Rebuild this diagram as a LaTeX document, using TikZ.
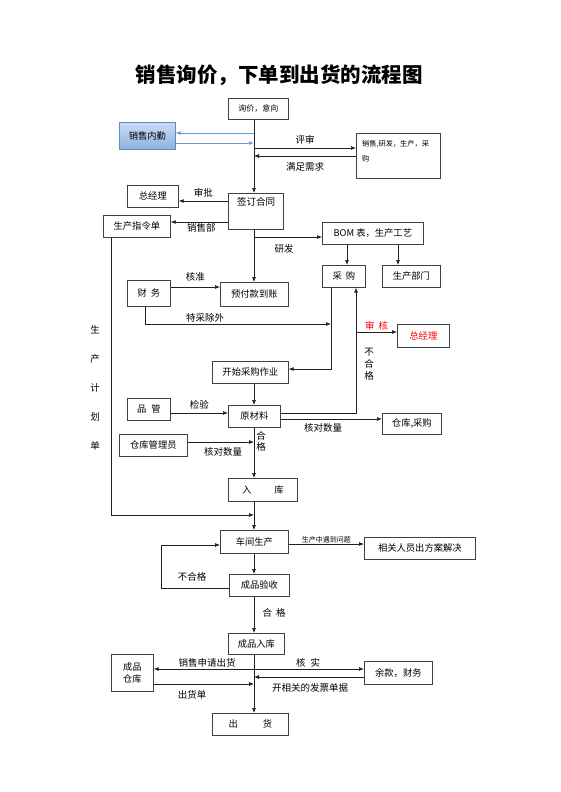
\documentclass[tikz,border=0pt]{standalone}
\usepackage{fontspec}
\setmainfont{Noto Sans CJK SC}
\usetikzlibrary{arrows.meta,calc,shadings}
\definecolor{lnc}{HTML}{202020}
\definecolor{bluel}{HTML}{6F9AD0}
\definecolor{bluetop}{HTML}{C9DCF2}
\definecolor{bluebot}{HTML}{8DB2E0}
\definecolor{blueedge}{HTML}{5B8BC6}
\newcommand{\mybox}[7][]{\node[rbox,#1,minimum width={(#5-#3)*1pt},minimum height={(#6-#4)*1pt}] (#2) at (#3,#4) {#7};}
\begin{document}
\begin{tikzpicture}[x=1pt,y=-1pt,
  rbox/.style={draw=black!75,line width=0.7pt,inner sep=1pt,font=\fontsize{9.3}{12}\selectfont,anchor=north west,align=center},
  lbl/.style={font=\fontsize{9.5}{12}\selectfont,inner sep=0pt},
  ar/.style={draw=lnc,line width=0.7pt,-{Latex[length=5pt,width=4pt]}},
  dar/.style={draw=lnc,line width=0.7pt,{Latex[length=5pt,width=4pt]}-{Latex[length=5pt,width=4pt]}},
  bar/.style={draw=bluel,line width=0.7pt,-{Latex[length=5pt,width=4pt]}}]
\useasboundingbox[fill=white] (0,0) rectangle (560,792);

\node[font=\fontsize{20.5}{24}\selectfont\bfseries] (title) at (279,75) {销售询价，下单到出货的流程图};

\coordinate (sp) at (254,0);

% boxes
\mybox[font=\fontsize{8}{10}\selectfont]{xunjia}{228}{98}{288}{119}{询价，意向}
\mybox[top color=bluetop,bottom color=bluebot,draw=blueedge]{neiqin}{119}{122}{175}{149}{销售内勤}
\mybox{xsyf}{356}{133}{440}{178}{}
\node[anchor=north west,inner sep=0pt,align=left,font=\fontsize{7.2}{15}\selectfont] (xsyft) at (362,140) {销售,研发，生产，采\\购};
\mybox{zjl1}{127}{185}{178}{207}{总经理}
\mybox{qdht}{228}{193}{283}{229}{}
\node[lbl] (qdhtt) at (256,202) {签订合同};
\mybox{sczld}{103}{215}{170}{237}{生产指令单}
\mybox{bom}{322}{222}{423}{244}{BOM 表，生产工艺}
\mybox{cg}{322}{265}{365}{287}{采\hspace{4pt}购}
\mybox{scbm}{382}{265}{440}{287}{生产部门}
\mybox{cw}{127}{280}{170}{306}{财\hspace{4pt}务}
\mybox{yfk}{220}{282}{288}{306}{预付款到账}
\mybox[text=red]{zjl2}{397}{324}{449}{347}{总经理}
\mybox{kscg}{212}{361}{288}{383}{开始采购作业}
\mybox{pg}{127}{398}{170}{420}{品\hspace{5pt}管}
\mybox{ycl}{228}{405}{280}{427}{原材料}
\mybox{ckcg}{382}{413}{441}{434}{仓库,采购}
\mybox{ckgly}{119}{434}{187}{456}{仓库管理员}
\mybox{ruku}{228}{478}{297}{501}{入\hspace{23pt}库}
\mybox{cjsc}{220}{530}{288}{553}{车间生产}
\mybox{xgry}{364}{537}{475}{559}{相关人员出方案解决}
\mybox{cpys}{229}{574}{289}{596}{成品验收}
\mybox{cprk}{228}{633}{284}{654}{成品入库}
\mybox{cpck}{111}{654}{153}{691}{成品\\仓库}
\mybox{ykcw}{364}{661}{432}{684}{余款，财务}
\mybox{chuhuo}{212}{713}{288}{735}{出\hspace{25pt}货}

% connectors
\draw[ar] (sp |- xunjia.south) -- (sp |- qdht.north);
\draw[bar] (sp |- 0,133) -- (neiqin.east |- 0,133);
\draw[bar] (neiqin.east |- 0,143) -- (sp |- 0,143);
\draw[ar] (sp |- 0,148) -- node[lbl,above=3pt]{评审} (xsyf.west |- 0,148);
\draw[ar] (xsyf.west |- 0,156) -- node[lbl,below=6pt]{满足需求} (sp |- 0,156);
\draw[ar] (qdht.west |- 0,201) -- node[lbl,above=3pt]{审批} (zjl1.east |- 0,201);
\draw[ar] (qdht.west |- 0,222) -- node[lbl,below=1pt,xshift=2pt]{销售部} (sczld.east |- 0,222);
\draw[ar] (sp |- qdht.south) -- (sp |- yfk.north);
\draw[ar] (sp |- 0,237) -- (bom.west |- 0,237);
\node[lbl] (yanfa) at (284,249) {研发};
\draw[ar] (bom.south -| 347,0) -- (cg.north -| 347,0);
\draw[ar] (bom.south -| 398,0) -- (scbm.north -| 398,0);
\draw[ar] (cw.east |- 0,287) -- node[lbl,above=5pt]{核准} (yfk.west |- 0,287);
\draw[ar] (cw.south -| 145,0) -- (145,324) -- (331,324);
\node[lbl,fill=white,inner sep=1pt] (tcce) at (205,318) {特采除外};
\draw[ar] (cg.south -| 331,0) -- (331,369) -- (kscg.east |- 0,369);
\draw[ar] (ycl.east |- 0,413) -- (356,413) -- (cg.south -| 356,0);
\draw[ar] (356,332) -- node[lbl,above=1.5pt,text=red]{审\hspace{4pt}核} (zjl2.west |- 0,332);
\node[lbl,align=center,font=\fontsize{9.5}{12}\selectfont] (bhg1) at (369,364) {不\\合\\格};
\draw[ar] (sp |- kscg.south) -- (sp |- ycl.north);
\draw[ar] (pg.east |- 0,413) -- node[lbl,above=3pt]{检验} (ycl.west |- 0,413);
\draw[ar] (ycl.east |- 0,419) -- (ckcg.west |- 0,419);
\node[lbl] (hdsl1) at (323,428) {核对数量};
\draw[ar] (sp |- ycl.south) -- (sp |- ruku.north);
\node[lbl,align=center,font=\fontsize{9.5}{11}\selectfont] (hg1) at (261,441) {合\\格};
\draw[ar] (ckgly.east |- 0,442) -- (sp |- 0,442);
\node[lbl] (hdsl2) at (223,452) {核对数量};
\node[lbl,align=center,font=\fontsize{9.5}{29}\selectfont] (scjhd) at (95,388) {生\\产\\计\\划\\单};
\draw[ar] (sczld.south -| 111,0) -- (111,515) -- (sp |- 0,515);
\draw[ar] (sp |- ruku.south) -- (sp |- cjsc.north);
\draw[ar] (cjsc.east |- 0,544) -- node[lbl,above=1pt,font=\fontsize{7}{8}\selectfont]{生产中遇到问题} (xgry.west |- 0,544);
\draw[ar] (sp |- cjsc.south) -- (sp |- cpys.north);
\draw[ar] (cpys.west |- 0,588) -- (161,588) -- (161,545) -- (cjsc.west |- 0,545);
\node[lbl] (bhg2) at (192,577) {不合格};
\draw[ar] (sp |- cpys.south) -- (sp |- cprk.north);
\node[lbl] (hg2) at (274,613) {合\hspace{4pt}格};
\draw[ar] (sp |- cprk.south) -- (sp |- chuhuo.north);
\draw[dar] (cpck.east |- 0,669) -- (ykcw.west |- 0,669);
\node[lbl] (xssq) at (207,663) {销售申请出货};
\node[lbl] (hs) at (308,663) {核\hspace{5pt}实};
\draw[ar] (ykcw.west |- 0,677) -- (sp |- 0,677);
\node[lbl] (kxg) at (310,688) {开相关的发票单据};
\draw[ar] (cpck.east |- 0,684) -- (sp |- 0,684);
\node[lbl] (chd) at (192,695) {出货单};
\end{tikzpicture}
\end{document}
